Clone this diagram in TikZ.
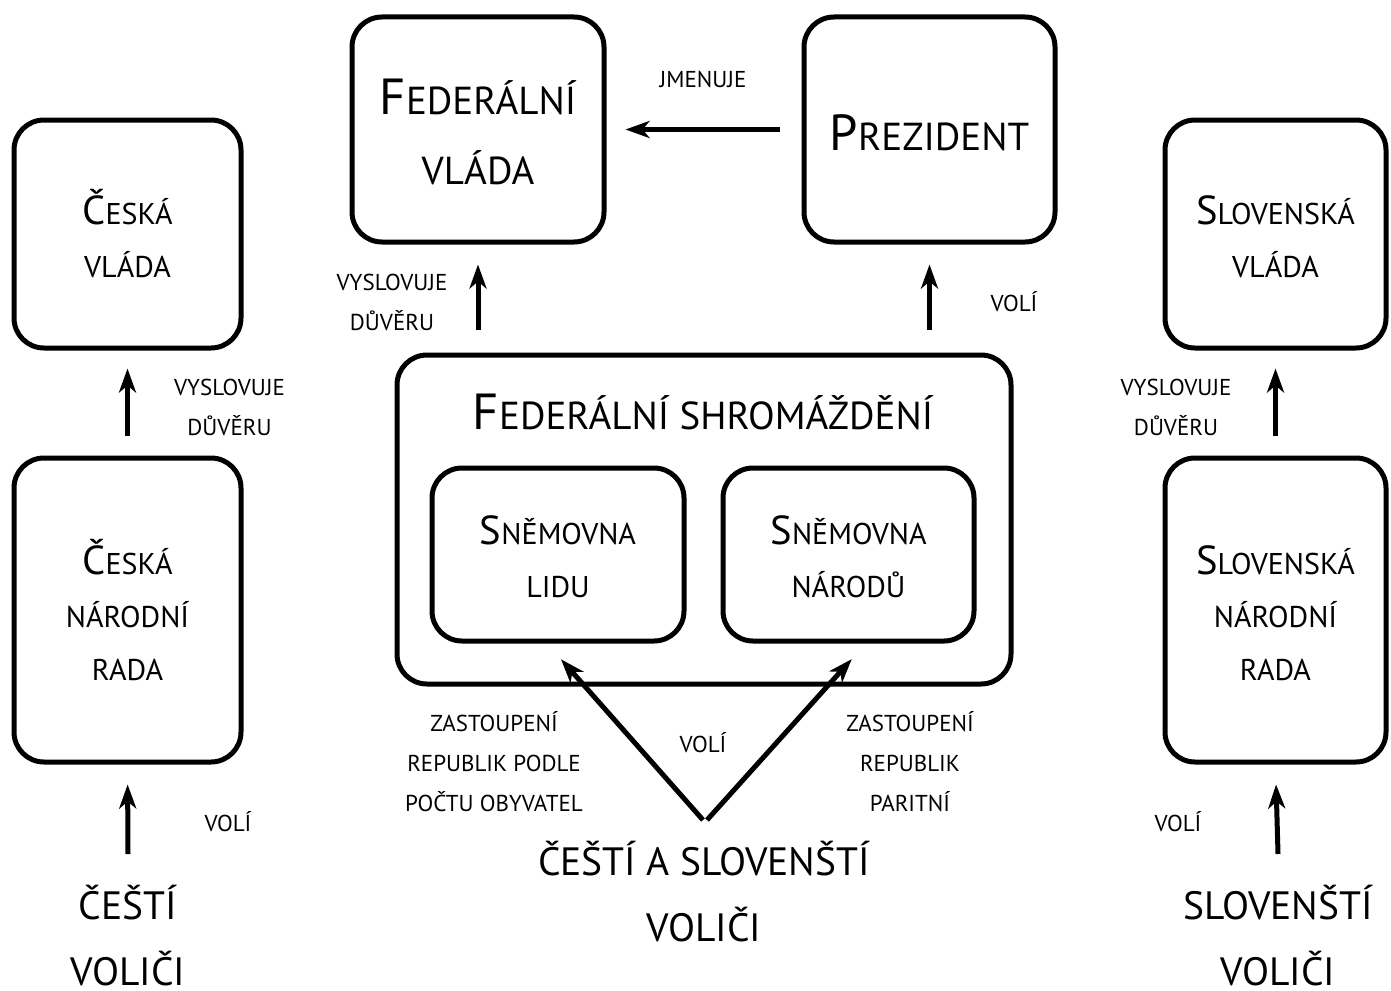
\documentclass[tikz,border=0pt]{standalone}
\usepackage{fontspec}
\setmainfont{PT Sans}
\usepackage{graphicx}
\usetikzlibrary{arrows.meta}
\newcommand{\Init}[2][1.35]{\scalebox{#1}{#2}}
\newcommand{\Up}[1]{\rule{0pt}{#1}}

\begin{document}
\begin{tikzpicture}[x=1pt,y=-1pt,
    box/.style={draw, line width=5pt, rounded corners=30pt, inner sep=0pt, align=center, font=\fontsize{30}{53}\selectfont},
    bigbox/.style={box, font=\fontsize{39}{70}\selectfont},
    lbl/.style={inner sep=0pt, align=center, font=\fontsize{23}{40}\selectfont},
    voters/.style={inner sep=0pt, align=center, font=\fontsize{39.5}{66}\selectfont},
    arr/.style={line width=5pt, -{Stealth[length=24pt,width=17pt,inset=7pt]}}]
    \useasboundingbox (0,0) rectangle (1391,990);

    % Czech side
    \node[box, minimum width=227, minimum height=228] (cvlada) at (127.5,234) {\Init{Č}ESKÁ\\VLÁDA};
    \node[box, minimum width=227, minimum height=304] (cnrada) at (127.5,610) {\Init{Č}ESKÁ\\NÁRODNÍ\\RADA};
    \node[voters] (cvolici) at (128,936) {ČEŠTÍ\\VOLIČI};
    \coordinate (ctail) at (128,854);

    % Slovak side
    \node[box, minimum width=221, minimum height=228] (svlada) at (1275.5,234) {\vphantom{\Init{Č}}\Init{S}LOVENSKÁ\\VLÁDA};
    \node[box, minimum width=221, minimum height=304] (snrada) at (1275.5,610) {\vphantom{\Init{Č}}\Init{S}LOVENSKÁ\\NÁRODNÍ\\RADA};
    \node[voters] (svolici) at (1278,936) {SLOVENŠTÍ\\VOLIČI};
    \coordinate (stail) at (1278,854);

    % Federation
    \node[bigbox, minimum width=252, minimum height=225] (fvlada) at (478,129.5) {\Up{39.5pt}\Init[1.3]{F}EDERÁLNÍ\\VLÁDA};
    \node[bigbox, minimum width=251, minimum height=225] (prezident) at (929.5,129.5) {\Up{42.5pt}\Init[1.3]{P}REZIDENT};
    \node[box, minimum width=614, minimum height=329] (fshrom) at (704,519.5) {};
    \node[inner sep=0pt, font=\fontsize{39}{70}\selectfont] (fstitle) at (703,412) {\Init[1.3]{F}EDERÁLNÍ SHROMÁŽDĚNÍ};
    \node[box, minimum width=252, minimum height=173] (slidu) at (558,554.5) {\Up{33.5pt}\Init{S}NĚMOVNA\\LIDU};
    \node[box, minimum width=251, minimum height=173] (snarodu) at (848.5,554.5) {\Up{33.5pt}\Init{S}NĚMOVNA\\NÁRODŮ};
    \node[voters] (csvolici) at (704,892) {ČEŠTÍ A SLOVENŠTÍ\\VOLIČI};
    \coordinate (ltail) at (703,820);
    \coordinate (rtail) at (707,820);

    % Labels
    \node[lbl] (jmenuje) at (703,79) {JMENUJE};
    \node[lbl] (fvduvera) at (392,302) {VYSLOVUJE\\DŮVĚRU};
    \node[lbl] (prvoli) at (1014,302) {VOLÍ};
    \node[lbl] (cvduvera) at (229.5,407) {VYSLOVUJE\\DŮVĚRU};
    \node[lbl] (svduvera) at (1176,407) {VYSLOVUJE\\DŮVĚRU};
    \node[lbl] (cvoli) at (228,822) {VOLÍ};
    \node[lbl] (svoli) at (1178,822) {VOLÍ};
    \node[lbl] (lidlbl) at (494,762) {ZASTOUPENÍ\\REPUBLIK PODLE\\POČTU OBYVATEL};
    \node[lbl] (narlbl) at (910,762) {ZASTOUPENÍ\\REPUBLIK\\PARITNÍ};
    \node[lbl] (csvoli) at (703,743) {VOLÍ};

    % Arrows
    \draw[arr, shorten <=22pt, shorten >=19pt] (prezident.west) -- (fvlada.east);
    \draw[arr, shorten <=23pt, shorten >=20pt] (fvlada.south |- fshrom.north) -- (fvlada.south);
    \draw[arr, shorten <=23pt, shorten >=20pt] (prezident.south |- fshrom.north) -- (prezident.south);
    \draw[arr, shorten <=20pt, shorten >=18pt] (cnrada.north) -- (cvlada.south);
    \draw[arr, shorten <=20pt, shorten >=18pt] (snrada.north) -- (svlada.south);
    \draw[arr, shorten >=20pt] (ctail) -- (cnrada.south);
    \draw[arr, shorten >=20pt] (stail) -- (snrada.south);
    \draw[arr, shorten >=21pt] (ltail) -- (slidu.263);
    \draw[arr, shorten >=21pt] (rtail) -- (snarodu.281);
\end{tikzpicture}
\end{document}
